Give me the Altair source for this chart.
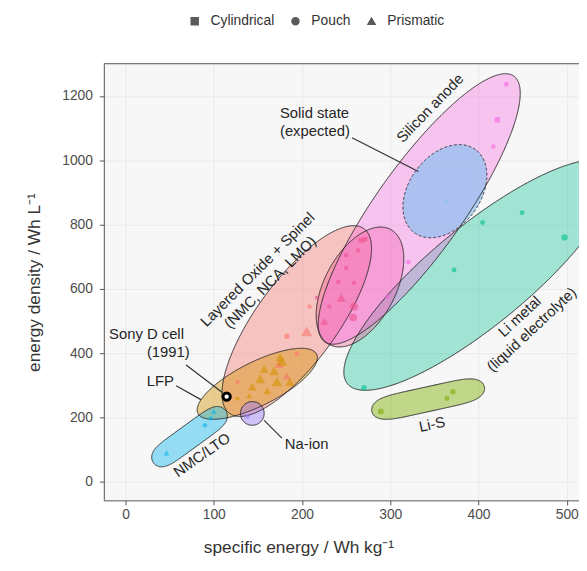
import altair as alt
import numpy as np
import pandas as pd

# ---------------- chart frame ----------------
X_MIN, X_MAX = -24.6, 513.9
Y_MIN, Y_MAX = -58.4, 1300.5
W, H = 481, 442
FONT = "Liberation Sans"

# ---------------- ellipse (region) definitions: major-axis tips in data units ----------------
ell_names = ["Li metal", "Li-S", "Layered Oxide", "High energy", "Silicon anode",
             "Solid state", "LFP", "NMC/LTO", "Na-ion"]
ell_x1 = [251.6, 279.1, 117.9, 231.1, 225.7, 327.2, 82.1, 31.7, 130.2]
ell_y1 = [304.4, 218.3, 212.2, 426.4, 435.0, 774.8, 212.2, 58.4, 212.2]
ell_x2 = [550.7, 406.7, 270.2, 300.3, 440.0, 396.7, 216.5, 113.4, 157.1]
ell_y2 = [980.8, 295.2, 787.1, 784.9, 1262.1, 1033.0, 396.6, 221.4, 212.2]
ell_ratio = [0.289, 0.214, 0.355, 0.545, 0.267, 0.69, 0.33, 0.267, 1.0]
ell_power = [2, 6, 2, 2, 2, 2, 2, 6, 2]
ell_color = ["#00BF8F", "#7CAE00", "#F8766D", "#F0508C", "#F564E3",
             "#8CC0EE", "#D39200", "#00B4EF", "#9C7CF8"]
ell_opacity = [0.35, 0.45, 0.4, 0.35, 0.35, 0.7, 0.42, 0.4, 0.45]
ell_dash = ["solid", "solid", "solid", "solid", "solid", "dashed", "solid", "solid", "solid"]

# ---------------- cells (points) ----------------
pt_group = (["Layered Oxide"] * 7 + ["High energy"] * 13 + ["LFP"] * 11 +
            ["NMC/LTO"] * 4 + ["Na-ion"] + ["Li-S"] * 3 + ["Li metal"] * 5 +
            ["Silicon anode"] * 5 + ["Solid state"])
pt_x = [205.3, 182.9, 208.6, 174.1, 194.2, 126.9, 182.9,
        266.9, 271.3, 263.5, 250.1, 250.1, 241.1, 259.0, 244.4, 231.0, 259.0, 257.9, 225.4, 216.5,
        177.2, 168.3, 157.1, 152.6, 186.2, 171.6, 143.6, 140.3, 175.0, 160.5, 126.9,
        46.4, 90.0, 96.7, 100.1,
        138.2,
        289.3, 371.0, 364.3,
        270.3, 404.6, 449.4, 497.5, 372.3,
        431.5, 421.4, 416.9, 320.6, 297.1,
        364.3]
pt_y = [467.7, 452.3, 544.6, 366.2, 396.9, 310.8, 329.0,
        750.8, 753.8, 720.0, 704.6, 664.6, 621.5, 618.5, 572.3, 544.6, 544.6, 510.8, 498.5, 572.3,
        375.1, 344.4, 350.5, 319.8, 310.5, 310.5, 295.2, 267.5, 387.4, 282.9, 258.3,
        89.2, 175.3, 196.8, 218.3,
        203.0,
        218.5, 280.0, 258.5,
        292.3, 806.2, 836.9, 760.0, 658.5,
        1236.9, 1126.2, 1043.0, 683.0, 575.4,
        873.8]
pt_format = (["Prismatic", "Pouch", "Pouch", "Prismatic", "Pouch", "Pouch", "Prismatic"] +
             ["Cylindrical", "Cylindrical", "Pouch", "Pouch", "Pouch", "Pouch", "Pouch",
              "Prismatic", "Pouch", "Pouch", "Pouch", "Prismatic", "Pouch"] +
             ["Prismatic"] * 10 + ["Pouch"] +
             ["Prismatic", "Pouch", "Pouch", "Prismatic"] +
             ["Pouch"] + ["Pouch"] * 3 + ["Pouch"] * 5 +
             ["Pouch", "Cylindrical", "Pouch", "Pouch", "Pouch"] + ["Pouch"])
pt_size = ([130, 30, 20, 90, 25, 20, 70] +
           [25, 25, 20, 20, 20, 20, 20, 90, 20, 70, 60, 60, 15] +
           [120, 100, 90, 110, 90, 110, 80, 40, 90, 70, 20] +
           [35, 20, 20, 35] + [20] + [35, 30, 25] + [30, 25, 25, 40, 25] +
           [25, 30, 20, 20, 20] + [20])

# Sony D cell (1991)
sony_x = [114.6]
sony_y = [264.6]

# ---------------- annotations (anchor = first line centre) ----------------
ann_text = ["Layered Oxide + Spinel\n(NMC, NCA, LMO)", "Silicon anode",
            "Li metal\n(liquid electrolyte)", "Li-S", "Na-ion", "NMC/LTO", "LFP",
            "Sony D cell", "(1991)"]
ann_x = [149.5, 345.0, 446.5, 347.4, 205.2, 86.5, 39.5, 23.8, 48.5]
ann_y = [660.0, 1162.2, 514.0, 178.3, 116.8, 83.0, 313.6, 458.1, 402.8]
ann_angle = [315, 314, 317, 348, 0, 325, 0, 0, 0]

left_text = ["Solid state\n(expected)"]
left_x = [175.0]
left_y = [1148.0]

lead_x1 = [256.7, 157.1, 57.4, 68.6]
lead_y1 = [1069.9, 190.6, 298.2, 362.8]
lead_x2 = [331.8, 177.2, 85.4, 110.1]
lead_y2 = [965.4, 135.3, 255.2, 276.7]

formats = ["Cylindrical", "Pouch", "Prismatic"]
x_ticks = [0, 100, 200, 300, 400, 500]
y_ticks = [0, 200, 400, 600, 800, 1000, 1200]

# ---------------- build ellipse outlines ----------------
SX = W / (X_MAX - X_MIN)
SY = H / (Y_MAX - Y_MIN)
t = np.linspace(0, 2 * np.pi, 721)
line_rows, area_rows = [], []
for i, name in enumerate(ell_names):
    p1 = np.array([ell_x1[i] * SX, ell_y1[i] * SY])
    p2 = np.array([ell_x2[i] * SX, ell_y2[i] * SY])
    c = (p1 + p2) / 2
    d = p2 - p1
    a = np.linalg.norm(d) / 2
    u = d / np.linalg.norm(d)
    n = np.array([-u[1], u[0]])
    b = ell_ratio[i] * a
    ct = np.cos(t)
    cu = np.sign(ct) * np.abs(ct) ** (2.0 / ell_power[i])
    sv = np.sin(t)
    pts = c + a * cu[:, None] * u + b * sv[:, None] * n
    X = pts[:, 0] / SX
    Y = pts[:, 1] / SY
    for k in range(len(t)):
        line_rows.append({"group": name, "x": X[k], "y": Y[k], "k": k, "dash": ell_dash[i]})
    Xo, Yo = X[:-1], Y[:-1]
    m = len(Xo)
    imin, imax = int(np.argmin(Xo)), int(np.argmax(Xo))
    idx_a = [(imin + j) % m for j in range((imax - imin) % m + 1)]
    idx_b = [(imax + j) % m for j in range((imin - imax) % m + 1)]
    xs = np.linspace(Xo[imin], Xo[imax], 260)
    chains = []
    for idx in (idx_a, idx_b):
        cx, cy = Xo[idx], Yo[idx]
        o = np.argsort(cx)
        chains.append(np.interp(xs, cx[o], cy[o]))
    lo = np.minimum(chains[0], chains[1])
    hi = np.maximum(chains[0], chains[1])
    for k in range(len(xs)):
        area_rows.append({"group": name, "x": xs[k], "lo": lo[k], "hi": hi[k], "op": ell_opacity[i]})

line_df = pd.DataFrame(line_rows)
area_df = pd.DataFrame(area_rows)
pts_df = pd.DataFrame({"group": pt_group, "x": pt_x, "y": pt_y, "format": pt_format, "size": pt_size})
sony_df = pd.DataFrame({"x": sony_x, "y": sony_y})
ann_df = pd.DataFrame({"text": ann_text, "x": ann_x, "y": ann_y, "angle": ann_angle})
left_df = pd.DataFrame({"text": left_text, "x": left_x, "y": left_y})
lead_df = pd.DataFrame({"x1": lead_x1, "y1": lead_y1, "x2": lead_x2, "y2": lead_y2})

# ---------------- scales / axes ----------------
XS = alt.Scale(domain=[X_MIN, X_MAX], nice=False, zero=False)
YS = alt.Scale(domain=[Y_MIN, Y_MAX], nice=False, zero=False)
XAX = alt.Axis(values=x_ticks, format="d", title="specific energy / Wh kg⁻¹", grid=True,
               gridColor="#EAEAEA", domainColor="#555555", tickColor="#555555",
               tickSize=4.5, labelFontSize=14, labelColor="#4D4D4D", labelFont=FONT,
               labelPadding=3, titleFontSize=17.5, titleFont=FONT, titleColor="#333333",
               titleFontWeight="normal", titlePadding=17, titleX=197)
YAX = alt.Axis(values=y_ticks, format="d", title="energy density / Wh L⁻¹", grid=True,
               gridColor="#EAEAEA", domainColor="#555555", tickColor="#555555",
               tickSize=4.5, labelFontSize=14, labelColor="#4D4D4D", labelFont=FONT,
               labelPadding=7, titleFontSize=17.5, titleFont=FONT, titleColor="#333333",
               titleFontWeight="normal", titlePadding=18)


def X(f):
    return alt.X(f, type="quantitative", scale=XS, axis=XAX)


def Y(f):
    return alt.Y(f, type="quantitative", scale=YS, axis=YAX, stack=None)


COLOR = alt.Color("group:N", scale=alt.Scale(domain=ell_names, range=ell_color), legend=None)

areas = alt.Chart(area_df).mark_area(clip=True, strokeWidth=0, interpolate="linear").encode(
    x=X("x"), y=Y("lo"), y2="hi", color=COLOR,
    opacity=alt.Opacity("op:Q", scale=None), detail="group:N")

outlines = alt.Chart(line_df).mark_line(clip=True, color="#2B2B2B", strokeWidth=1).encode(
    x=X("x"), y=Y("y"), detail="group:N", order="k:Q",
    strokeDash=alt.StrokeDash("dash:N", scale=alt.Scale(domain=["solid", "dashed"],
                                                        range=[[1, 0], [3, 2]]), legend=None))

points = alt.Chart(pts_df).mark_point(filled=True, opacity=0.6, clip=True).encode(
    x=X("x"), y=Y("y"), color=COLOR,
    shape=alt.Shape("format:N", scale=alt.Scale(domain=formats,
                                                 range=["square", "circle", "triangle-up"]),
                    legend=alt.Legend(orient="none", legendX=85, legendY=-50,
                                      direction="horizontal", title=None, labelFontSize=14,
                                      labelFont=FONT, labelColor="#333333",
                                      symbolFillColor="#5A5A5A", symbolStrokeColor="#5A5A5A",
                                      symbolSize=50, symbolOpacity=1, labelOffset=9,
                                      columnPadding=14)),
    size=alt.Size("size:Q", scale=None))

sony = alt.Chart(sony_df).mark_point(shape="circle", filled=True, fill="white", stroke="black",
                                     strokeWidth=3, size=55, opacity=1).encode(x=X("x"), y=Y("y"))

leads = alt.Chart(lead_df).mark_rule(color="#333333", strokeWidth=1.2).encode(
    x=X("x1"), y=Y("y1"), x2="x2", y2="y2")

labels = alt.Chart(ann_df).mark_text(align="center", baseline="middle", fontSize=15, font=FONT,
                                     color="#262626", lineBreak="\n", lineHeight=18).encode(
    x=X("x"), y=Y("y"), text="text:N", angle=alt.Angle("angle:Q", scale=None))

left_labels = alt.Chart(left_df).mark_text(align="left", baseline="middle", fontSize=15, font=FONT,
                                           color="#262626", lineBreak="\n", lineHeight=19).encode(
    x=X("x"), y=Y("y"), text="text:N")

top_border = alt.Chart(pd.DataFrame({"a": [0]})).mark_rule(color="#555555", strokeWidth=1).encode(
    x=alt.value(0), x2=alt.value(W), y=alt.value(0))

chart = alt.layer(areas, outlines, points, sony, leads, labels, left_labels, top_border).properties(
    width=W, height=H,
    autosize=alt.AutoSizeParams(type="none"),
    padding={"left": 97, "top": 53, "right": 0, "bottom": 62},
).configure_view(stroke=None, fill="#F7F7F7")

chart.save("out.html", embed_options={"renderer": "svg", "actions": False})
